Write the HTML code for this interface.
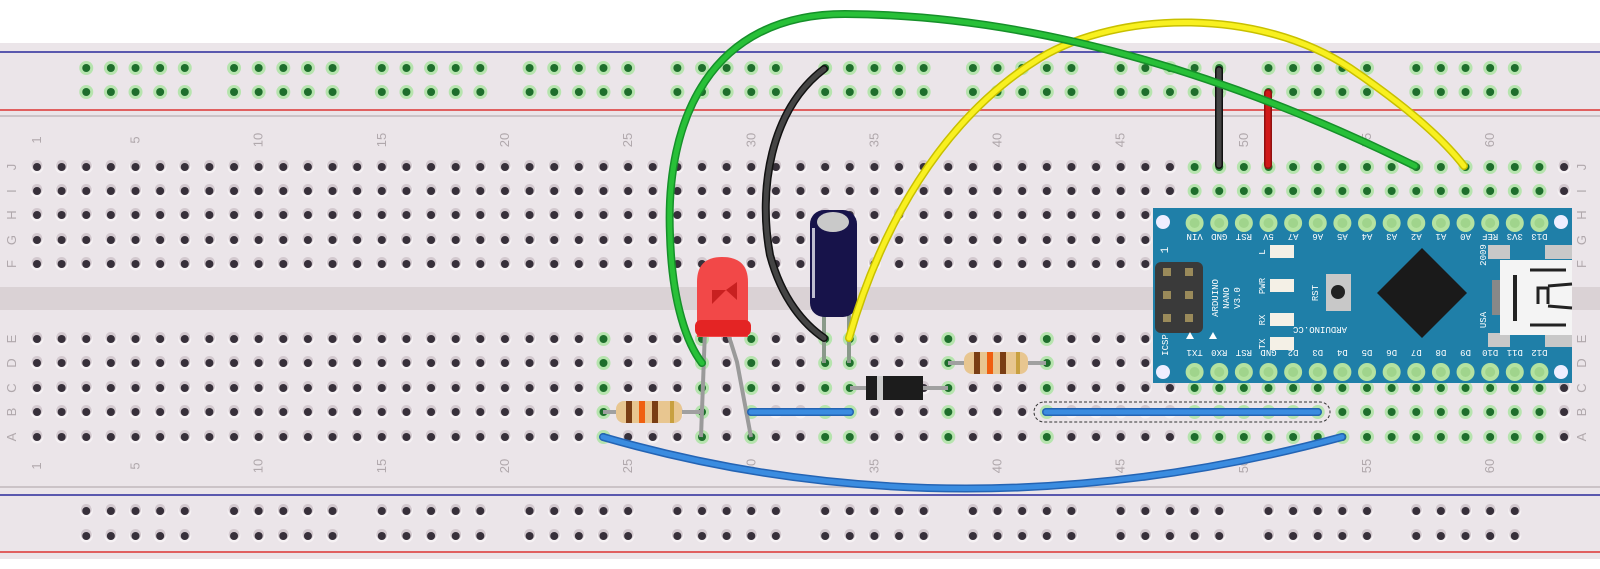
<!DOCTYPE html>
<html><head><meta charset="utf-8"><style>
html,body{margin:0;padding:0;background:#fff;}
svg{display:block;}
</style></head><body>
<svg id="s" xmlns="http://www.w3.org/2000/svg" width="1600" height="569" viewBox="0 0 1600 569" font-family="Liberation Mono, monospace">
<rect x="0" y="0" width="1600" height="569" fill="#fff"/>
<rect x="0" y="43" width="1600" height="516" fill="#ebe5e9"/>
<rect x="0" y="287" width="1600" height="23" fill="#dad2d5"/>
<line x1="0" y1="52" x2="1600" y2="52" stroke="#2a2a9a" stroke-width="1.5"/>
<line x1="0" y1="110" x2="1600" y2="110" stroke="#e06060" stroke-width="2"/>
<line x1="0" y1="116" x2="1600" y2="116" stroke="#cbc3c7" stroke-width="2"/>
<line x1="0" y1="487" x2="1600" y2="487" stroke="#cbc3c7" stroke-width="2"/>
<line x1="0" y1="495" x2="1600" y2="495" stroke="#2a2a9a" stroke-width="1.5"/>
<line x1="0" y1="552" x2="1600" y2="552" stroke="#e06060" stroke-width="2"/>
<g id="holes"></g>
<g id="labels" fill="#b0a8ac" font-family="Liberation Sans, sans-serif" font-size="13"></g>

<!-- Arduino Nano -->
<g>
<rect x="1153" y="208" width="419" height="175" fill="#1f7fa8"/>
<circle cx="1163" cy="222" r="7" fill="#eef"/>
<circle cx="1561" cy="222" r="7" fill="#eef"/>
<circle cx="1163" cy="372" r="7" fill="#eef"/>
<circle cx="1561" cy="372" r="7" fill="#eef"/>
<rect x="1155" y="262" width="48" height="71" rx="6" fill="#3a3a3a"/>
<g fill="#9a8a5a"><rect x="1163" y="268" width="8" height="8"/><rect x="1185" y="268" width="8" height="8"/><rect x="1163" y="291" width="8" height="8"/><rect x="1185" y="291" width="8" height="8"/><rect x="1163" y="314" width="8" height="8"/><rect x="1185" y="314" width="8" height="8"/></g>
<g fill="#f4f0e6"><rect x="1270" y="245" width="24" height="13"/><rect x="1270" y="279" width="24" height="13"/><rect x="1270" y="313" width="24" height="13"/><rect x="1270" y="337" width="24" height="13"/></g>
<rect x="1326" y="274" width="25" height="37" fill="#c8c8c8"/>
<circle cx="1338" cy="292" r="7" fill="#222"/>
<polygon points="1422,248 1467,293 1422,338 1377,293" fill="#1a1a1a"/>
<rect x="1488" y="245" width="22" height="14" fill="#c8c8c8"/>
<rect x="1488" y="333" width="22" height="14" fill="#c8c8c8"/>
<rect x="1545" y="245" width="27" height="14" fill="#c8c8c8"/>
<rect x="1545" y="333" width="27" height="14" fill="#c8c8c8"/>
<rect x="1500" y="260" width="72" height="75" fill="#f4f4f4"/>
<rect x="1492" y="280" width="8" height="35" fill="#888"/>
<rect x="1513" y="275" width="4" height="46" fill="#222"/>
<path d="M1538 304 L1538 288 L1548 288 L1548 304 M1530 270 L1566 270 M1530 325 L1566 325 M1548 286 L1572 284 M1548 306 L1572 308" stroke="#222" stroke-width="3" fill="none"/>
<g id="pins"></g>
<g fill="#fff" font-size="9" text-anchor="middle">
<text transform="rotate(-90 1218 298)" x="1218" y="298">ARDUINO</text>
<text transform="rotate(-90 1229 298)" x="1229" y="298">NANO</text>
<text transform="rotate(-90 1240 298)" x="1240" y="298">V3.0</text>
<text transform="rotate(-90 1265 252)" x="1265" y="252">L</text>
<text transform="rotate(-90 1265 286)" x="1265" y="286">PWR</text>
<text transform="rotate(-90 1265 320)" x="1265" y="320">RX</text>
<text transform="rotate(-90 1265 344)" x="1265" y="344">TX</text>
<text transform="rotate(-90 1318 293)" x="1318" y="293">RST</text>
<text transform="rotate(180 1320 330)" x="1320" y="333">ARDUINO.CC</text>
<text transform="rotate(-90 1486 255)" x="1486" y="255">2009</text>
<text transform="rotate(-90 1486 320)" x="1486" y="320">USA</text>
<text transform="rotate(-90 1168 345)" x="1168" y="345">ICSP</text>
<text transform="rotate(-90 1168 250)" x="1168" y="250" font-size="11">1</text>
</g>
<polygon points="1186,339 1194,339 1190,332" fill="#fff"/>
<polygon points="1209,339 1217,339 1213,332" fill="#fff"/>
</g>

<!-- short rail wires -->
<line x1="1219" y1="70" x2="1219" y2="165" stroke="#111" stroke-width="8" stroke-linecap="round"/>
<line x1="1219" y1="70" x2="1219" y2="165" stroke="#444" stroke-width="5" stroke-linecap="round"/>
<line x1="1268" y1="93" x2="1268" y2="165" stroke="#901010" stroke-width="8" stroke-linecap="round"/>
<line x1="1268" y1="93" x2="1268" y2="165" stroke="#d01818" stroke-width="5" stroke-linecap="round"/>

<!-- resistor 1 -->
<line x1="603" y1="412" x2="701" y2="412" stroke="#a0a0a0" stroke-width="4"/>
<rect x="616" y="401" width="66" height="22" rx="8" fill="#e8c690"/>
<g fill="#7a3e14"><rect x="626" y="401" width="6" height="22"/><rect x="652" y="401" width="6" height="22"/></g>
<rect x="639" y="401" width="6" height="22" fill="#f06010"/>
<rect x="670" y="401" width="4" height="22" fill="#c8a040"/>
<!-- resistor 2 -->
<line x1="948" y1="363" x2="1046" y2="363" stroke="#a0a0a0" stroke-width="4"/>
<rect x="964" y="352" width="64" height="22" rx="8" fill="#e8c690"/>
<g fill="#7a3e14"><rect x="974" y="352" width="6" height="22"/><rect x="1000" y="352" width="6" height="22"/></g>
<rect x="987" y="352" width="6" height="22" fill="#f06010"/>
<rect x="1016" y="352" width="4" height="22" fill="#c8a040"/>
<!-- diode -->
<line x1="850" y1="388" x2="948" y2="388" stroke="#a0a0a0" stroke-width="4"/>
<rect x="866" y="376" width="57" height="24" fill="#1c1c1c"/>
<rect x="877" y="376" width="6" height="24" fill="#ccc"/>
<!-- LED -->
<path d="M705 330 L701 437" stroke="#9a9a9a" stroke-width="4" fill="none"/>
<path d="M727 330 L737 362 L751 437" stroke="#9a9a9a" stroke-width="4" fill="none"/>
<path d="M697 337 L697 282 Q697 257 722 257 Q748 257 748 282 L748 337 Z" fill="#f24848"/>
<rect x="695" y="320" width="56" height="16" rx="6" fill="#e42424"/>
<path d="M712 290 L726 290 L712 304 Z" fill="#c82020"/>
<path d="M726 290 L737 282 L737 300 Z" fill="#c82020"/>
<!-- capacitor -->
<line x1="824" y1="315" x2="824" y2="363" stroke="#8a9a8a" stroke-width="4"/>
<line x1="849" y1="315" x2="849" y2="363" stroke="#8a9a8a" stroke-width="4"/>
<rect x="810" y="210" width="47" height="107" rx="14" fill="#17134a"/>
<ellipse cx="833" cy="222" rx="16" ry="10" fill="#c9c9c9"/>
<rect x="812" y="228" width="3" height="70" fill="#e8e8f0" opacity="0.8"/>

<!-- blue wires -->
<line x1="751" y1="412" x2="850" y2="412" stroke="#2464b4" stroke-width="8" stroke-linecap="round"/>
<line x1="751" y1="412" x2="850" y2="412" stroke="#3a8ce0" stroke-width="5" stroke-linecap="round"/>
<rect x="1034" y="402" width="296" height="20" rx="10" fill="none" stroke="#333" stroke-width="1" stroke-dasharray="3,2"/>
<line x1="1046" y1="412" x2="1318" y2="412" stroke="#2464b4" stroke-width="8" stroke-linecap="round"/>
<line x1="1046" y1="412" x2="1318" y2="412" stroke="#3a8ce0" stroke-width="5" stroke-linecap="round"/>
<path d="M603 437 Q960 540 1342 437" stroke="#2464b4" stroke-width="8" fill="none" stroke-linecap="round"/>
<path d="M603 437 Q960 540 1342 437" stroke="#3a8ce0" stroke-width="5" fill="none" stroke-linecap="round"/>

<!-- black wire -->
<path d="M824 69 C770 110 758 190 770 255 C782 300 805 325 824 338" stroke="#111" stroke-width="8" fill="none" stroke-linecap="round"/>
<path d="M824 69 C770 110 758 190 770 255 C782 300 805 325 824 338" stroke="#444" stroke-width="5" fill="none" stroke-linecap="round"/>
<!-- yellow wire -->
<path d="M849 338 C880 230 940 120 1040 58 C1120 10 1260 8 1350 68 C1400 102 1440 135 1464 166" stroke="#c8c000" stroke-width="8" fill="none" stroke-linecap="round"/>
<path d="M849 338 C880 230 940 120 1040 58 C1120 10 1260 8 1350 68 C1400 102 1440 135 1464 166" stroke="#f8f020" stroke-width="5" fill="none" stroke-linecap="round"/>
<!-- green wire -->
<path d="M1415 166 C1250 85 1050 15 845 14 C710 14 665 120 670 235 C672 305 688 345 702 363" stroke="#16902a" stroke-width="8" fill="none" stroke-linecap="round"/>
<path d="M1415 166 C1250 85 1050 15 845 14 C710 14 665 120 670 235 C672 305 688 345 702 363" stroke="#28c038" stroke-width="5" fill="none" stroke-linecap="round"/>
</svg>
<script>
(function(){
var NS="http://www.w3.org/2000/svg";
function X(c){return 37+24.63*(c-1);}
var H=document.getElementById("holes");
function hole(x,y,g){
  var h=document.createElementNS(NS,"circle");
  h.setAttribute("cx",x);h.setAttribute("cy",y);h.setAttribute("r",g?7:6.5);
  h.setAttribute("fill",g?"#b6e4ae":"#f6f2f4");H.appendChild(h);
  if(!g){var s=document.createElementNS(NS,"circle");s.setAttribute("cx",x);s.setAttribute("cy",y-1.5);s.setAttribute("r",5.5);s.setAttribute("fill","#d2c8ce");H.appendChild(s);}
  var d=document.createElementNS(NS,"circle");
  d.setAttribute("cx",x);d.setAttribute("cy",y);d.setAttribute("r",4);
  d.setAttribute("fill",g?"#1e6e2c":"#37303a");H.appendChild(d);
}
var top=[167,191,215,240,264],bot=[339,363,388,412,437];
var gl={24:1,28:1,30:1,33:1,34:1,38:1,42:1};
for(var c=1;c<=63;c++){
  var gt=(c>=48&&c<=62), gb=(c>=48&&c<=62)||gl[c];
  top.forEach(function(y){hole(X(c),y,gt);});
  bot.forEach(function(y){hole(X(c),y,gb);});
}
for(var k=0;k<10;k++)for(var i=0;i<5;i++){
  var x=X(3+6*k+i);
  hole(x,68,true);hole(x,92,true);hole(x,511,false);hole(x,536,false);
}
var L=document.getElementById("labels");
function txt(x,y,t){var e=document.createElementNS(NS,"text");e.setAttribute("x",x);e.setAttribute("y",y);e.setAttribute("text-anchor","middle");e.setAttribute("transform","rotate(-90 "+x+" "+y+")");e.setAttribute("dy","4");e.textContent=t;L.appendChild(e);}
var nums=[1,5,10,15,20,25,30,35,40,45,50,55,60];
nums.forEach(function(n){txt(X(n),140,n);txt(X(n),466,n);});
var rl=["J","I","H","G","F"],rb=["E","D","C","B","A"];
rl.forEach(function(r,i){txt(12,top[i],r);txt(1582,top[i],r);});
rb.forEach(function(r,i){txt(12,bot[i],r);txt(1582,bot[i],r);});
var P=document.getElementById("pins");
var tl=["VIN","GND","RST","5V","A7","A6","A5","A4","A3","A2","A1","A0","REF","3V3","D13"];
var bl=["TX1","RX0","RST","GND","D2","D3","D4","D5","D6","D7","D8","D9","D10","D11","D12"];
for(var j=0;j<15;j++){
  var x=X(48+j);
  [223,372].forEach(function(y){
    var a=document.createElementNS(NS,"circle");a.setAttribute("cx",x);a.setAttribute("cy",y);a.setAttribute("r",9);a.setAttribute("fill","#b4e2a0");P.appendChild(a);
    var b=document.createElementNS(NS,"circle");b.setAttribute("cx",x);b.setAttribute("cy",y);b.setAttribute("r",5);b.setAttribute("fill","#a0d48c");P.appendChild(b);
  });
  [[tl[j],240],[bl[j],356]].forEach(function(p){
    var t=document.createElementNS(NS,"text");t.setAttribute("x",x);t.setAttribute("y",p[1]);t.setAttribute("text-anchor","middle");t.setAttribute("fill","#fff");t.setAttribute("font-size","9");t.setAttribute("transform","rotate(180 "+x+" "+(p[1]-3)+")");t.textContent=p[0];P.appendChild(t);
  });
}
})();
</script>
</body></html>
